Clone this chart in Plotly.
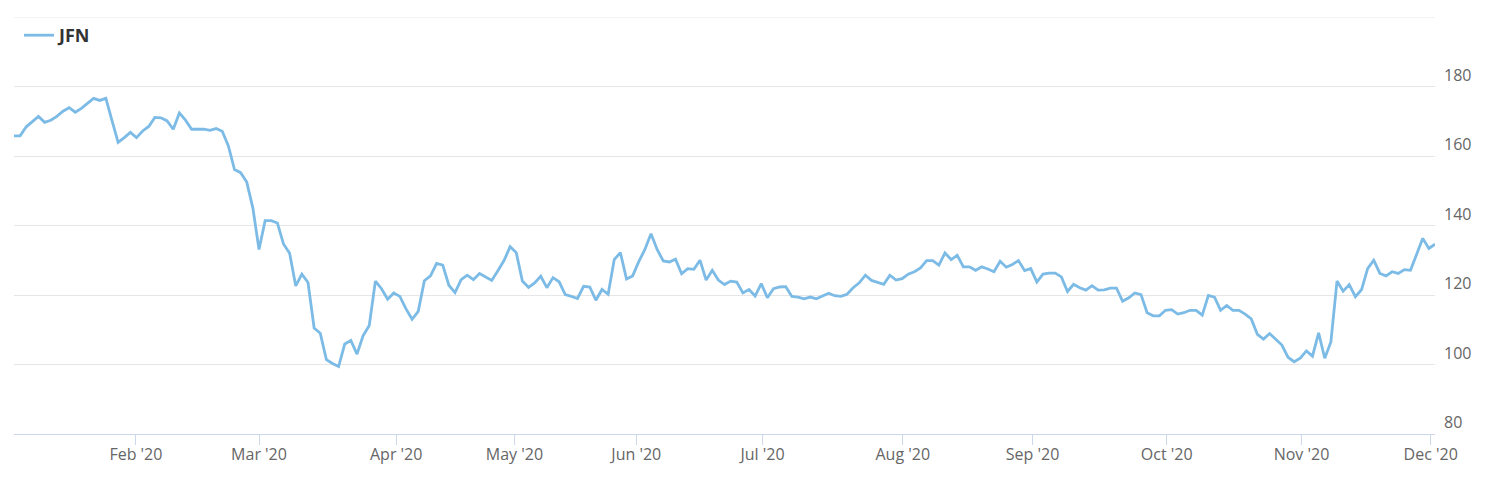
import plotly.graph_objects as go

# JFN closing prices, one value per trading session (Jan 2020 - Dec 1 2020)
prices = [
    165.8, 165.8, 168.4, 169.9, 171.4, 169.7, 170.3, 171.4, 172.9, 173.9,
    172.6, 173.7, 175.2, 176.6, 176.0, 176.6, 170.2, 163.9, 165.3, 166.8,
    165.3, 167.2, 168.5, 171.1, 171.0, 170.1, 167.7, 172.4, 170.3, 167.7,
    167.7, 167.7, 167.4, 167.9, 167.1, 162.9, 156.1, 155.2, 152.5, 145.0,
    133.1, 141.4, 141.4, 140.7, 134.7, 132.0, 122.6, 126.0, 123.6, 110.5,
    109.0, 101.4, 100.3, 99.4, 105.9, 106.9, 103.0, 108.3, 111.2, 124.0,
    121.8, 118.8, 120.6, 119.6, 116.0, 113.0, 115.3, 124.1, 125.5, 129.1,
    128.6, 122.8, 120.7, 124.4, 125.7, 124.4, 126.2, 125.1, 124.2, 127.0,
    129.9, 133.9, 132.2, 124.0, 122.2, 123.5, 125.4, 122.1, 125.0, 123.8,
    120.1, 119.6, 119.0, 122.5, 122.3, 118.5, 121.6, 120.2, 130.2, 132.2,
    124.6, 125.5, 129.6, 133.1, 137.6, 133.1, 129.8, 129.5, 130.3, 126.1,
    127.6, 127.4, 130.0, 124.3, 127.1, 124.3, 123.0, 124.0, 123.7, 120.6,
    121.6, 119.7, 123.3, 119.2, 121.8, 122.3, 122.4, 119.6, 119.4, 118.9,
    119.4, 118.9, 119.6, 120.5, 119.8, 119.6, 120.2, 122.1, 123.5, 125.7,
    124.2, 123.7, 123.1, 125.7, 124.3, 124.7, 126.0, 126.7, 127.8, 129.9,
    129.9, 128.6, 132.1, 130.2, 131.4, 128.1, 128.1, 127.1, 128.1, 127.5,
    126.7, 129.7, 128.0, 128.8, 129.9, 127.0, 127.6, 123.7, 126.0, 126.3,
    126.3, 125.2, 121.0, 123.1, 122.1, 121.4, 122.7, 121.4, 121.5, 122.0,
    122.0, 118.2, 119.2, 120.6, 120.1, 114.9, 114.0, 114.0, 115.6, 115.8,
    114.5, 114.9, 115.6, 115.6, 114.2, 119.9, 119.4, 115.6, 117.0, 115.6,
    115.6, 114.5, 113.1, 108.7, 107.3, 108.9, 107.2, 105.6, 102.1, 100.8,
    101.8, 103.9, 102.4, 109.1, 101.8, 106.5, 124.0, 121.1, 123.0, 119.5,
    121.5, 127.6, 130.0, 126.2, 125.5, 126.7, 126.2, 127.3, 127.1, 131.5,
    136.3, 133.4, 134.6,
]
sessions = list(range(len(prices)))

# month-start positions on the ordinal (session) axis and their labels
month_pos = [19.9, 40.0, 62.4, 81.7, 101.6, 122.2, 145.1, 166.3, 188.2, 210.2, 231.3]
month_labels = ["Feb '20", "Mar '20", "Apr '20", "May '20", "Jun '20", "Jul '20",
                "Aug '20", "Sep '20", "Oct '20", "Nov '20", "Dec '20"]

y_ticks = [80, 100, 120, 140, 160, 180]
y_labels = ["80", "100", "120", "140", "160", "180"]
y_top = 200

fig = go.Figure()
fig.add_trace(go.Scatter(
    x=sessions, y=prices, mode="lines", name="JFN",
    line=dict(color="#7cbbe6", width=2.8),
))

# top grid line (value 200, unlabeled)
fig.add_hline(y=y_top, line=dict(color="#e6e6e6", width=1), layer="below")

# the page body adds an 8px offset, so the figure is 8px smaller on each axis
fig.update_layout(
    width=1487, height=477,
    margin=dict(l=6, r=60, t=9, b=51),
    paper_bgcolor="white", plot_bgcolor="white",
    font=dict(family="Open Sans, sans-serif", color="#666666", size=16),
    showlegend=True,
    legend=dict(
        x=0.0035, y=1.0, xanchor="left", yanchor="top",
        bgcolor="rgba(0,0,0,0)",
        font=dict(size=18, color="#333333", family="Open Sans, sans-serif", weight="bold"),
        itemwidth=30,
    ),
    xaxis=dict(
        range=[0, len(prices) - 1],
        tickvals=month_pos, ticktext=month_labels,
        showgrid=False, zeroline=False,
        showline=True, linecolor="#ccd6eb", linewidth=1,
        ticks="outside", ticklen=10, tickcolor="#ccd6eb",
        tickfont=dict(size=16, color="#666666"),
        ticklabelstandoff=-4,
        automargin=False,
    ),
    yaxis=dict(
        range=[80, 200], side="right",
        tickvals=y_ticks, ticktext=y_labels,
        showgrid=True, gridcolor="#e6e6e6", gridwidth=1,
        zeroline=False, showline=False, ticks="",
        ticklabelposition="outside top",
        tickfont=dict(size=16, color="#666666"),
        ticklabelstandoff=8,
        automargin=False,
    ),
)

fig.write_html("out.html")
